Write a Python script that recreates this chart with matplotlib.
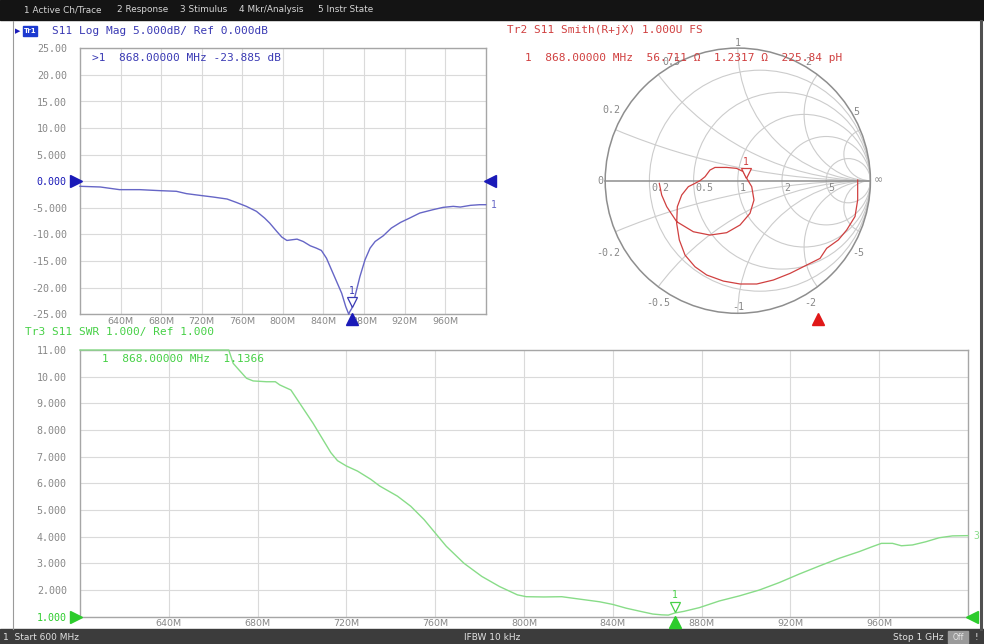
import numpy as np
import matplotlib.pyplot as plt
from matplotlib.patches import Rectangle, Circle
from matplotlib.transforms import offset_copy

W, H = 984, 644

# Tr1: S11 Log Mag (dB) against frequency (MHz)
logmag_freq = [600, 620, 639, 659, 679, 695, 705, 718, 731, 745, 754, 764, 774,
               782, 787, 794, 799, 804, 809, 814, 820, 827, 833, 838, 843, 848,
               853, 858, 862, 865, 866, 868, 871, 876, 881, 886, 891, 899, 907,
               916, 925, 935, 948, 958, 968, 975, 985, 994, 1000]
logmag_db = [-0.94, -1.07, -1.57, -1.57, -1.76, -1.88, -2.32, -2.64, -2.95, -3.33,
             -3.96, -4.71, -5.65, -6.91, -7.85, -9.42, -10.49, -11.12, -10.99,
             -10.87, -11.31, -12.12, -12.56, -13.0, -14.45, -16.65, -18.84, -21.04,
             -23.55, -25.0, -24.5, -23.885, -21.7, -17.9, -14.76, -12.56, -11.31,
             -10.24, -8.79, -7.73, -6.91, -5.97, -5.34, -4.9, -4.71, -4.84, -4.52,
             -4.4, -4.4]

# Tr3: S11 SWR (pinned at the top of the grid where off scale)
swr_freq = [600, 640, 667, 669, 671, 675, 678, 684, 688, 690, 695, 699, 705, 709,
            713, 716, 720, 725, 731, 735, 739, 743, 749, 755, 760, 765, 773, 781,
            789, 797, 801, 809, 817, 825, 834, 840, 846, 853, 858, 862, 865, 868,
            872, 879, 888, 897, 906, 915, 924, 933, 942, 951, 957, 961, 966, 970,
            975, 981, 987, 993, 1000]
swr_val = [11.0, 11.0, 11.0, 10.5, 10.31, 9.94, 9.84, 9.81, 9.81, 9.69, 9.5, 9.0,
           8.25, 7.7, 7.15, 6.85, 6.65, 6.46, 6.15, 5.9, 5.71, 5.52, 5.14, 4.64,
           4.14, 3.64, 3.0, 2.51, 2.13, 1.82, 1.75, 1.74, 1.75, 1.66, 1.56, 1.46,
           1.32, 1.19, 1.1, 1.07, 1.06, 1.14, 1.2, 1.34, 1.59, 1.78, 2.0, 2.28,
           2.6, 2.9, 3.19, 3.44, 3.63, 3.75, 3.75, 3.66, 3.69, 3.81, 3.96, 4.03,
           4.04]

# Tr2: S11 on the Smith chart (reflection coefficient)
smith_re = [0.904, 0.904, 0.884, 0.821, 0.758, 0.670, 0.62, 0.52, 0.394, 0.268,
            0.143, 0.017, -0.109, -0.235, -0.323, -0.398, -0.441, -0.461, -0.456,
            -0.423, -0.373, -0.323, -0.285, -0.247, -0.21, -0.172, -0.084, -0.009,
            0.042, 0.067, 0.105, 0.122, 0.092, 0.017, -0.084, -0.21, -0.335,
            -0.461, -0.536, -0.574, -0.592]
smith_im = [0.005, -0.146, -0.27, -0.372, -0.447, -0.51, -0.586, -0.636, -0.699,
            -0.749, -0.779, -0.779, -0.757, -0.711, -0.649, -0.561, -0.447, -0.322,
            -0.196, -0.108, -0.045, -0.02, 0.0, 0.03, 0.08, 0.1, 0.1, 0.093, 0.068,
            0.018, -0.045, -0.146, -0.246, -0.334, -0.392, -0.41, -0.385, -0.309,
            -0.196, -0.108, -0.02]

# marker 1
mkr_freq = 868.0
mkr_db = -23.885
mkr_swr = 1.1366
mkr_r, mkr_x, mkr_l = 56.711, 1.2317, 225.84

freq_ticks = [640, 680, 720, 760, 800, 840, 880, 920, 960]
freq_labels = ['640M', '680M', '720M', '760M', '800M', '840M', '880M', '920M', '960M']
db_ticks = [25, 20, 15, 10, 5, 0, -5, -10, -15, -20, -25]
db_labels = ['25.00', '20.00', '15.00', '10.00', '5.000', '0.000', '-5.000',
             '-10.00', '-15.00', '-20.00', '-25.00']
swr_ticks = [11, 10, 9, 8, 7, 6, 5, 4, 3, 2, 1]
swr_labels = ['11.00', '10.00', '9.000', '8.000', '7.000', '6.000', '5.000',
              '4.000', '3.000', '2.000', '1.000']
smith_r = [0.2, 0.5, 1, 2, 5]
smith_x = [0.2, 0.5, 1, 2, 5]
smith_x_labels = [('0.2', -0.951, 0.533), ('0.5', -0.50, 0.897), ('1', 0.0, 1.04),
                  ('2', 0.53, 0.897), ('5', 0.897, 0.52), ('-0.2', -0.979, -0.548),
                  ('-0.5', -0.602, -0.925), ('-1', 0.0, -0.95), ('-2', 0.543, -0.925),
                  ('-5', 0.906, -0.548)]
menu_items = [('1 Active Ch/Trace', 24), ('2 Response', 117), ('3 Stimulus', 180),
              ('4 Mkr/Analysis', 239), ('5 Instr State', 318)]

BLUE = '#3a3ab4'
BLUE_TR = '#6666c6'
BLUE_MK = '#1a1ab8'
RED = '#d04040'
GREEN = '#46d046'
GREEN_TR = '#88dc88'
GRID = '#dadada'
LABEL = '#888888'
MONO = 'DejaVu Sans Mono'

fig = plt.figure(figsize=(W / 100, H / 100), dpi=100)
fig.patch.set_facecolor('white')


def fx(x):
    return x / W


def fy(y):
    return 1 - y / H


def axes_at(left, top, right, bottom):
    return fig.add_axes([left / W, 1 - bottom / H, (right - left) / W, (bottom - top) / H])


def ftext(x, y, s, **kw):
    kw.setdefault('va', 'center')
    fig.text(fx(x), fy(y), s, **kw)


# menu bar and status bar
fig.add_artist(Rectangle((0, fy(20)), 1, 20 / H, transform=fig.transFigure,
                         color='#141414', zorder=0))
for name, xpos in menu_items:
    ftext(xpos, 10, name, color='#d6d6d6', fontsize=6.4)
fig.add_artist(Rectangle((0, 0), 1, 15 / H, transform=fig.transFigure,
                         color='#3c3c3c', zorder=0))
ftext(3, 637, '1  Start 600 MHz', color='#e2e2e2', fontsize=6.5)
ftext(492, 637, 'IFBW 10 kHz', color='#e2e2e2', fontsize=6.5, ha='center')
ftext(944, 637, 'Stop 1 GHz', color='#e2e2e2', fontsize=6.5, ha='right')
fig.add_artist(Rectangle((fx(948), fy(643)), 20 / W, 12 / H, transform=fig.transFigure,
                         color='#9a9a9a', zorder=1))
ftext(958, 637, 'Off', color='#e8e8e8', fontsize=5.5, ha='center', zorder=2)
ftext(976, 637, '!', color='#e2e2e2', fontsize=6.5, ha='center')

# window frame
fig.add_artist(plt.Line2D([fx(13), fx(13)], [fy(21), fy(629)], color='#9a9a9a', lw=0.8))
fig.add_artist(plt.Line2D([fx(981), fx(981)], [fy(21), fy(629)], color='#505050', lw=2.2))


def rect_plot(ax, xs, ys, color, ylim, yticks, ylabels, ref, refcolor, trace_no):
    ax.plot(xs, ys, color=color, lw=1.0, clip_on=False, zorder=3)
    ax.set_xlim(600, 1000)
    ax.set_ylim(*ylim)
    ax.set_xticks(freq_ticks, freq_labels, fontsize=6.8, color=LABEL)
    ax.set_yticks(yticks, ylabels, fontsize=7.2, color=LABEL, family=MONO)
    for lab, v in zip(ax.get_yticklabels(), yticks):
        if v == ref:
            lab.set_color(refcolor)
    ax.tick_params(length=0)
    ax.tick_params(axis='y', pad=9.5)
    ax.tick_params(axis='x', pad=2)
    ax.grid(color=GRID, lw=0.8)
    for s in ax.spines.values():
        s.set_color('#a6a6a6')
        s.set_linewidth(1.0)
    tl = offset_copy(ax.transData, fig=fig, x=-4, y=0, units='dots')
    tr = offset_copy(ax.transData, fig=fig, x=4, y=0, units='dots')
    ax.plot([600], [ref], marker='>', ms=8, color=refcolor, clip_on=False,
            transform=tl, zorder=5)
    ax.plot([1000], [ref], marker='<', ms=8, color=refcolor, clip_on=False,
            transform=tr, zorder=5)
    ax.annotate(trace_no, (1000, ys[-1]), xytext=(5, 0), textcoords='offset pixels',
                color=color, fontsize=7, family=MONO, va='center', ha='left',
                annotation_clip=False)


# Tr1 log magnitude
ax1 = axes_at(80, 48.3, 485.7, 314.3)
rect_plot(ax1, logmag_freq, logmag_db, BLUE_TR, (-25, 25), db_ticks, db_labels,
          0, BLUE_MK, '1')
ax1.annotate('1', (mkr_freq, mkr_db), xytext=(0, 17), textcoords='offset pixels',
             color=BLUE, fontsize=7, family=MONO, ha='center', va='center')
ax1.plot([mkr_freq], [mkr_db], marker='v', ms=7, mfc='white', mec=BLUE, mew=0.9,
         transform=offset_copy(ax1.transData, fig=fig, x=0, y=6, units='dots'),
         zorder=6, clip_on=False)
ax1.plot([mkr_freq], [-25], marker='^', ms=8, color=BLUE_MK, clip_on=False, zorder=7,
         transform=offset_copy(ax1.transData, fig=fig, x=0, y=-5, units='dots'))

fig.add_artist(Rectangle((fx(23), fy(36)), 14 / W, 10 / H, transform=fig.transFigure,
                         color='#1c3ad0', zorder=2))
ftext(30, 31, 'Tr1', color='white', fontsize=5, ha='center', weight='bold', zorder=3)
ftext(18, 31, '\u25b6', color=BLUE_MK, fontsize=5, ha='center')
ftext(52, 31, 'S11 Log Mag 5.000dB/ Ref 0.000dB', color=BLUE, fontsize=8, family=MONO)
ftext(92, 58.3, f'>1  {mkr_freq:.5f} MHz {mkr_db:.3f} dB', color=BLUE, fontsize=8,
      family=MONO)

# Tr3 SWR
ax3 = axes_at(80, 350, 968, 616.7)
rect_plot(ax3, swr_freq, swr_val, GREEN_TR, (1, 11), swr_ticks, swr_labels,
          1, '#2ccc2c', '3')
ax3.annotate('1', (mkr_freq, mkr_swr), xytext=(0, 18), textcoords='offset pixels',
             color=GREEN, fontsize=7, family=MONO, ha='center', va='center')
ax3.plot([mkr_freq], [mkr_swr], marker='v', ms=7, mfc='white', mec=GREEN, mew=0.9,
         transform=offset_copy(ax3.transData, fig=fig, x=0, y=6, units='dots'),
         zorder=6, clip_on=False)
ax3.plot([mkr_freq], [1], marker='^', ms=8, color='#2ccc2c', clip_on=False, zorder=7,
         transform=offset_copy(ax3.transData, fig=fig, x=0, y=-5, units='dots'))
ftext(25, 332, 'Tr3 S11 SWR 1.000/ Ref 1.000', color=GREEN, fontsize=8, family=MONO)
ftext(101.7, 359.3, f'1  {mkr_freq:.5f} MHz  {mkr_swr:.4f}', color=GREEN, fontsize=8,
      family=MONO)

# Tr2 Smith chart
cx, cy, rad = 737.8, 180.7, 132.6
axs = axes_at(cx - 1.2 * rad, cy - 1.2 * rad, cx + 1.2 * rad, cy + 1.2 * rad)
axs.set_xlim(-1.2, 1.2)
axs.set_ylim(-1.2, 1.2)
axs.set_axis_off()
axs.patch.set_alpha(0)
unit = Circle((0, 0), 1, transform=axs.transData)
for r in smith_r:
    axs.add_patch(Circle((r / (1 + r), 0), 1 / (1 + r), fill=False, ec='#cccccc', lw=0.8))
for xv in smith_x:
    for sgn in (1, -1):
        arc = Circle((1, sgn / xv), 1 / xv, fill=False, ec='#cccccc', lw=0.8)
        axs.add_patch(arc)
        arc.set_clip_path(unit)
axs.add_patch(Circle((0, 0), 1, fill=False, ec='#8e8e8e', lw=1.1))
axs.plot([-1, 1], [0, 0], color='#8e8e8e', lw=1.1)
for r in smith_r:
    axs.text((r - 1) / (r + 1) + 0.015, -0.055, f'{r:g}', color=LABEL, fontsize=7.2,
             family=MONO, ha='left', va='center')
axs.text(-1.04, 0, '0', color=LABEL, fontsize=7.2, family=MONO, ha='center', va='center')
axs.text(1.06, 0, '\u221e', color=LABEL, fontsize=8, ha='center', va='center')
for s, gx, gy in smith_x_labels:
    axs.text(gx, gy, s, color=LABEL, fontsize=7.2, family=MONO, ha='center', va='center')
axs.plot(smith_re, smith_im, color=RED, lw=0.9, zorder=4)

z = complex(mkr_r, mkr_x)
g = (z - 50) / (z + 50)
axs.annotate('1', (g.real, g.imag), xytext=(0, 17), textcoords='offset pixels',
             color=RED, fontsize=7, family=MONO, ha='center', va='center')
axs.plot([g.real], [g.imag], marker='v', ms=7, mfc='white', mec=RED, mew=0.9, zorder=6,
         transform=offset_copy(axs.transData, fig=fig, x=0, y=6, units='dots'))

# stimulus marker of the Smith window, placed along the window width
win_l, win_r = 490, 980
stim_x = win_l + (mkr_freq - 600) / 400 * (win_r - win_l)
fig.add_artist(plt.Line2D([fx(stim_x)], [fy(319)], marker='^', ms=8, color='#e01818',
                          transform=fig.transFigure))

ftext(506.7, 30, 'Tr2 S11 Smith(R+jX) 1.000U FS', color=RED, fontsize=8, family=MONO)
ftext(525, 57.7, f'1  {mkr_freq:.5f} MHz  {mkr_r:.3f} \u03a9  {mkr_x:.4f} \u03a9  '
      f'{mkr_l:.2f} pH', color=RED, fontsize=8, family=MONO, zorder=5)

fig.savefig('out.png', dpi=100, facecolor='white')
